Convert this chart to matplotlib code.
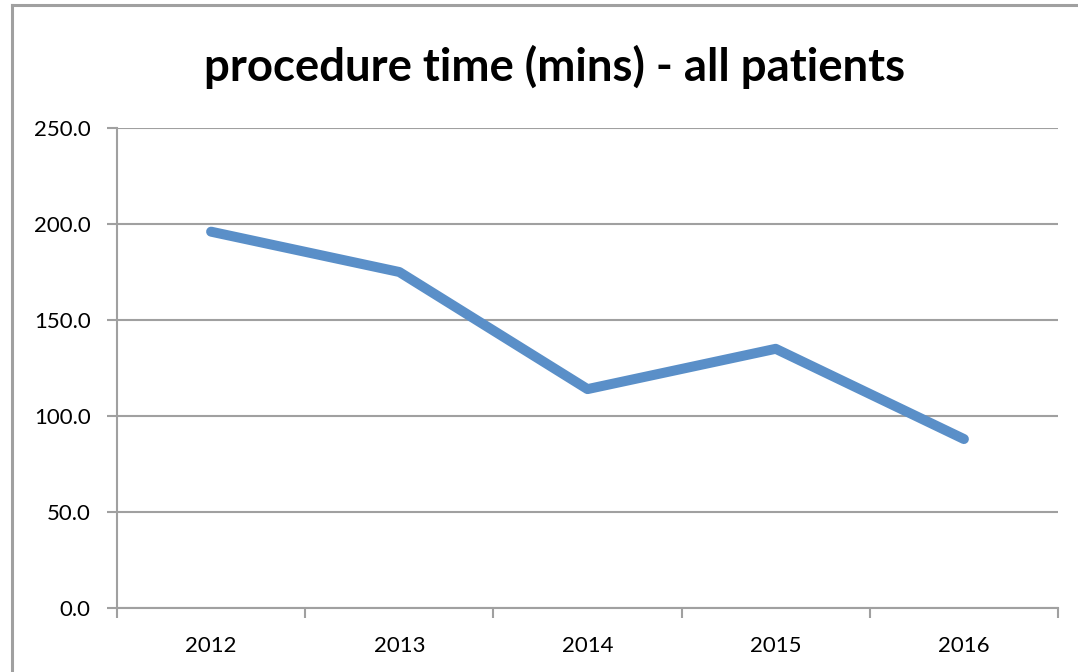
import matplotlib
matplotlib.use("Agg")
import matplotlib.pyplot as plt
from matplotlib.lines import Line2D
from matplotlib.ticker import FixedLocator, FormatStrFormatter

years = ["2012", "2013", "2014", "2015", "2016"]
minutes = [196, 175, 114, 135, 88]
title = "procedure time (mins) - all patients"

plt.rcParams['font.family'] = ['Lato', 'DejaVu Sans']

W, H = 1078, 672
fig = plt.figure(figsize=(W / 100, H / 100), dpi=100)
fig.patch.set_facecolor("white")

grid_c = "#A0A0A0"
# outer chart frame (left and top visible)
fig.add_artist(Line2D([11.5 / W, 11.5 / W], [0, 1 - 5 / H], transform=fig.transFigure, color=grid_c, lw=2.2))
fig.add_artist(Line2D([11.5 / W, 1], [1 - 5 / H, 1 - 5 / H], transform=fig.transFigure, color=grid_c, lw=2.2))

ax = fig.add_axes([117 / W, (H - 608) / H, 941 / W, 480 / H])
x = list(range(len(years)))
ax.plot(x, minutes, color="#5A8FC8", lw=7.2, solid_capstyle="round", solid_joinstyle="round", zorder=3)

ax.set_ylim(0, 250)
ax.set_xlim(-0.5, len(years) - 0.5)
ax.set_yticks([0, 50, 100, 150, 200, 250])
ax.yaxis.set_major_formatter(FormatStrFormatter("%.1f"))
ax.grid(axis="y", color=grid_c, lw=1.5, zorder=1)
ax.set_axisbelow(True)

ax.xaxis.set_major_locator(FixedLocator([i - 0.5 for i in range(len(years) + 1)]))
ax.xaxis.set_major_formatter(plt.NullFormatter())
ax.xaxis.set_minor_locator(FixedLocator(x))
ax.set_xticklabels(years, minor=True)
ax.tick_params(axis="x", which="major", length=7, width=1.5, color=grid_c, direction="out")
ax.tick_params(axis="x", which="minor", length=0, pad=20, labelsize=16)
ax.tick_params(axis="y", length=7, width=1.5, color=grid_c, pad=12, labelsize=16)

for s in ["top", "right"]:
    ax.spines[s].set_visible(False)
for s in ["left", "bottom"]:
    ax.spines[s].set_color(grid_c)
    ax.spines[s].set_linewidth(1.5)

fig.text(555 / W, 1 - 67 / H, title, ha="center", va="center", fontsize=32.8, fontweight="bold")

fig.savefig("out.png", dpi=100)
